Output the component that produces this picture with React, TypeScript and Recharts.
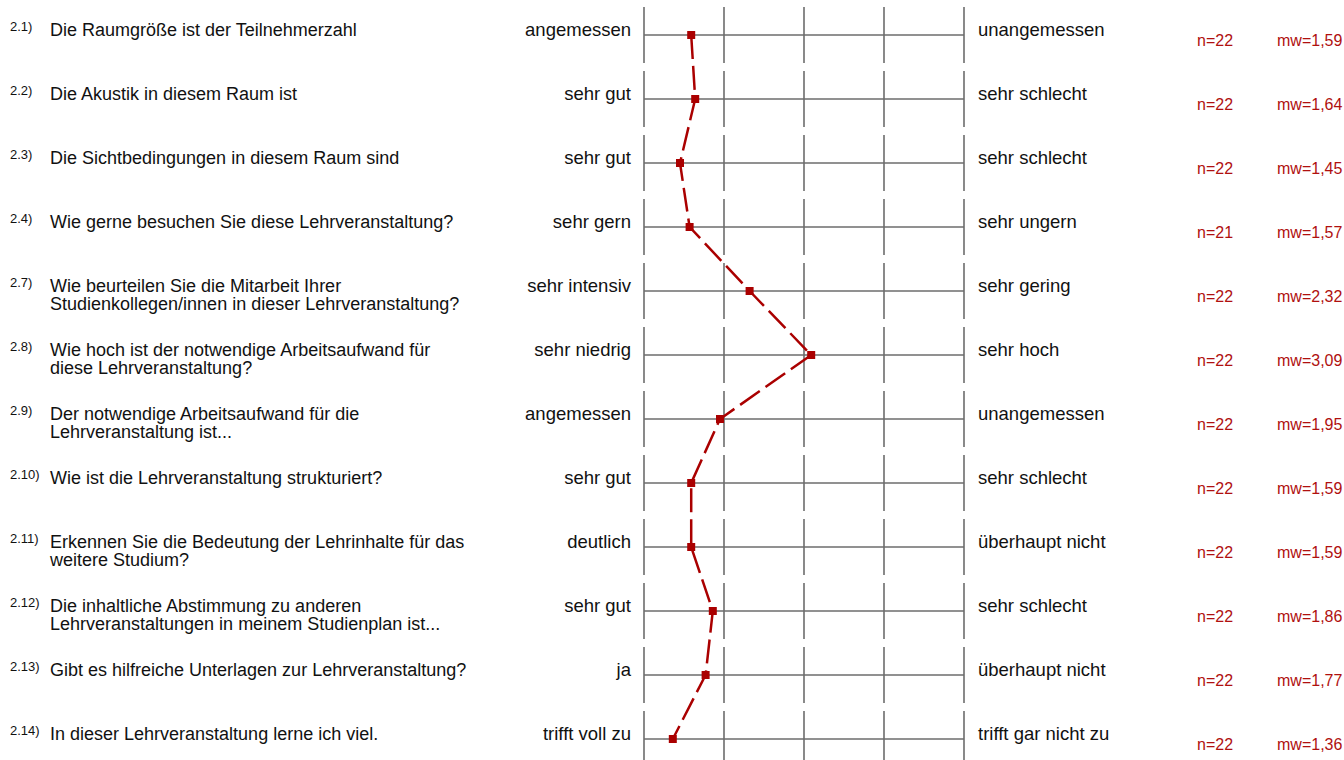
import { LineChart, Line, XAxis, YAxis, ReferenceLine } from "recharts";

const itemNumbers = ["2.1)", "2.2)", "2.3)", "2.4)", "2.7)", "2.8)", "2.9)", "2.10)", "2.11)", "2.12)", "2.13)", "2.14)"];

const questions = [
  ["Die Raumgröße ist der Teilnehmerzahl"],
  ["Die Akustik in diesem Raum ist"],
  ["Die Sichtbedingungen in diesem Raum sind"],
  ["Wie gerne besuchen Sie diese Lehrveranstaltung?"],
  ["Wie beurteilen Sie die Mitarbeit Ihrer", "Studienkollegen/innen in dieser Lehrveranstaltung?"],
  ["Wie hoch ist der notwendige Arbeitsaufwand für", "diese Lehrveranstaltung?"],
  ["Der notwendige Arbeitsaufwand für die", "Lehrveranstaltung ist..."],
  ["Wie ist die Lehrveranstaltung strukturiert?"],
  ["Erkennen Sie die Bedeutung der Lehrinhalte für das", "weitere Studium?"],
  ["Die inhaltliche Abstimmung zu anderen", "Lehrveranstaltungen in meinem Studienplan ist..."],
  ["Gibt es hilfreiche Unterlagen zur Lehrveranstaltung?"],
  ["In dieser Lehrveranstaltung lerne ich viel."],
];

const leftPoles = ["angemessen", "sehr gut", "sehr gut", "sehr gern", "sehr intensiv", "sehr niedrig", "angemessen", "sehr gut", "deutlich", "sehr gut", "ja", "trifft voll zu"];
const rightPoles = ["unangemessen", "sehr schlecht", "sehr schlecht", "sehr ungern", "sehr gering", "sehr hoch", "unangemessen", "sehr schlecht", "überhaupt nicht", "sehr schlecht", "überhaupt nicht", "trifft gar nicht zu"];

const counts = [22, 22, 22, 21, 22, 22, 22, 22, 22, 22, 22, 22];
const means = [1.59, 1.64, 1.45, 1.57, 2.32, 3.09, 1.95, 1.59, 1.59, 1.86, 1.77, 1.36];

const scaleSteps = [1, 2, 3, 4, 5];

const data = means.map((mw, row) => ({ row, mw }));
const rows = data.map((d) => d.row);

const RED = "#aa0000";
const TEXT_RED = "#b0100f";
const GRID = "#6c6c6c";
const FONT = "'Liberation Sans', Arial, sans-serif";
const HALF = 0.4375; // half height of the vertical tick segments, in rows

function LeftTick({ y, payload }: any) {
  const i = payload.value;
  const lines = questions[i];
  return (
    <g fontFamily={FONT} fill="#111">
      <text x={10} y={y - 4} fontSize={13}>
        {itemNumbers[i]}
      </text>
      <text x={50} y={y + 0.5} fontSize={18}>
        {lines.map((l, k) => (
          <tspan key={k} x={50} dy={k === 0 ? 0 : 18}>
            {l}
          </tspan>
        ))}
      </text>
      <text x={631} y={y + 0.5} fontSize={18.5} textAnchor="end">
        {leftPoles[i]}
      </text>
    </g>
  );
}

function RightTick({ y, payload }: any) {
  const i = payload.value;
  return (
    <g fontFamily={FONT}>
      <text x={978} y={y + 0.5} fontSize={18.5} fill="#111">
        {rightPoles[i]}
      </text>
      <text x={1197} y={y + 11} fontSize={16} fill={TEXT_RED}>
        {`n=${counts[i]}`}
      </text>
      <text x={1277} y={y + 11} fontSize={16} fill={TEXT_RED}>
        {`mw=${means[i].toFixed(2).replace(".", ",")}`}
      </text>
    </g>
  );
}

function SquareDot({ cx, cy, index }: any) {
  return <rect key={index} x={cx - 4} y={cy - 4} width={8} height={8} fill={RED} />;
}

export default function App() {
  return (
    <div style={{ position: "absolute", left: 0, top: 0, width: 1344, height: 760, overflow: "hidden", background: "#fff" }}>
      <LineChart
        width={1344}
        height={771}
        data={data}
        layout="vertical"
        margin={{ top: 3, right: 0, bottom: 0, left: 0 }}
      >
        <XAxis type="number" dataKey="mw" domain={[1, 5]} hide />
        <YAxis
          yAxisId="left"
          type="number"
          dataKey="row"
          domain={[-0.5, 11.5]}
          ticks={rows}
          interval={0}
          width={644}
          axisLine={false}
          tickLine={false}
          tick={<LeftTick />}
        />
        <YAxis
          yAxisId="right"
          orientation="right"
          type="number"
          dataKey="row"
          domain={[-0.5, 11.5]}
          ticks={rows}
          interval={0}
          width={380}
          axisLine={false}
          tickLine={false}
          tick={<RightTick />}
        />
        {rows.map((r) => (
          <ReferenceLine
            key={`h${r}`}
            yAxisId="left"
            segment={[
              { x: 1, y: r },
              { x: 5, y: r },
            ]}
            stroke={GRID}
            strokeWidth={1.5}
          />
        ))}
        {rows.map((r) =>
          scaleSteps.map((s) => (
            <ReferenceLine
              key={`v${r}-${s}`}
              yAxisId="left"
              segment={[
                { x: s, y: r - HALF },
                { x: s, y: r + HALF },
              ]}
              stroke={GRID}
              strokeWidth={1.6}
            />
          ))
        )}
        <Line
          yAxisId="left"
          dataKey="mw"
          stroke={RED}
          strokeWidth={2.5}
          strokeDasharray="24 7"
          dot={SquareDot}
          activeDot={false}
          isAnimationActive={false}
        />
      </LineChart>
    </div>
  );
}
